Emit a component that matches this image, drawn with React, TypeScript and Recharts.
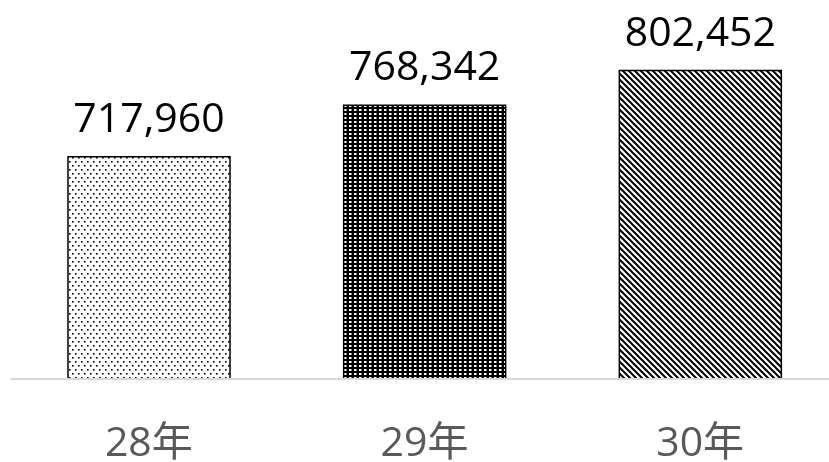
import { BarChart, Bar, XAxis, YAxis, Cell, LabelList } from "recharts";

const years = ["28年", "29年", "30年"];
const counts = [717960, 768342, 802452];
const patterns = ["dots", "dark", "diag"];

const data = years.map((year, i) => ({ year, count: counts[i] }));

const FONT = "'Open Sans', 'Noto Sans CJK JP', sans-serif";

export default function App() {
  return (
    <div style={{ position: "fixed", left: 0, top: 0, width: 829, height: 462, overflow: "hidden" }}>
      <div style={{ position: "absolute", left: 8, top: 8 }}>
        <BarChart
          width={830}
          height={454}
          data={data}
          margin={{ top: 14, right: 0, bottom: 0, left: 3 }}
        >
          <defs>
            <pattern id="dots" width="6" height="8" patternUnits="userSpaceOnUse">
              <rect width="6" height="8" fill="#fff" />
              <rect x="1" y="1" width="1.6" height="1.6" fill="#000" />
              <rect x="4" y="5" width="1.6" height="1.6" fill="#000" />
            </pattern>
            <pattern id="dark" width="5" height="4" patternUnits="userSpaceOnUse">
              <rect width="5" height="4" fill="#000" />
              <rect x="1" y="1" width="2.5" height="2" fill="#fff" />
            </pattern>
            <pattern id="diag" width="6" height="6" patternUnits="userSpaceOnUse">
              <rect width="6" height="6" fill="#fff" />
              <path d="M-1,-1 L7,7 M5,-1 L7,1 M-1,5 L1,7" stroke="#000" strokeWidth="2" />
            </pattern>
          </defs>
          <XAxis
            dataKey="year"
            axisLine={{ stroke: "#d9d9d9", strokeWidth: 2 }}
            tickLine={false}
            tickSize={0}
            tickMargin={48}
            height={83}
            tick={{ fill: "#595959", fontSize: 41, fontFamily: FONT }}
          />
          <YAxis hide domain={[500000, 850000]} />
          <Bar dataKey="count" barSize={162} stroke="#000" strokeWidth={1.5} isAnimationActive={false}>
            {data.map((d, i) => (
              <Cell key={d.year} fill={`url(#${patterns[i]})`} />
            ))}
            <LabelList
              dataKey="count"
              position="top"
              offset={25}
              formatter={(v: number) => v.toLocaleString("en-US")}
              style={{ fill: "#000", fontSize: 41, fontFamily: FONT }}
            />
          </Bar>
        </BarChart>
      </div>
    </div>
  );
}
